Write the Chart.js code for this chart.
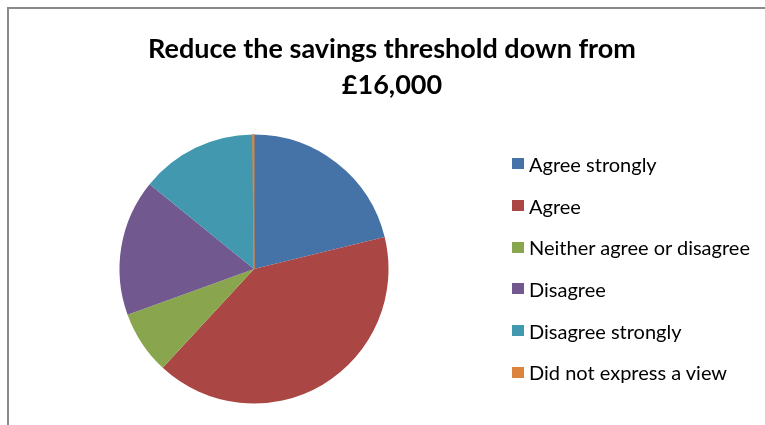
<!DOCTYPE html>
<html>
<head>
<meta charset="utf-8">
<script src="https://cdn.jsdelivr.net/npm/chart.js@4"></script>
<style>
    html, body { margin: 0; padding: 0; background: #fff; }
    #wrap { position: relative; width: 765px; height: 425px; overflow: hidden; }
    #frame {
        position: absolute; left: 7px; top: 7px; width: 800px; height: 460px;
        border: 2px solid #8a8a8a; box-sizing: border-box;
    }
    canvas { position: absolute; left: 0; top: 0; }
    #title {
        position: absolute; left: 0; top: 30px; width: 784px; text-align: center;
        font-family: Lato, sans-serif; font-weight: bold; font-size: 27px; line-height: 36px;
        color: #000;
    }
    #legend {
        position: absolute; left: 512px; top: 143px; margin: 0; padding: 0;
        list-style: none; font-family: Lato, sans-serif; font-size: 20px; color: #000;
    }
    #legend li { height: 41.7px; display: flex; align-items: center; white-space: nowrap; }
    #legend .swatch { width: 12px; height: 11px; margin-right: 5px; flex: none; }
</style>
</head>
<body>
<div id="wrap">
    <div id="frame"></div>
    <canvas id="pieChart" width="765" height="425"></canvas>
    <div id="title"></div>
    <ul id="legend"></ul>
</div>
<script>
const TITLE_LINES = ["Reduce the savings threshold down from", "£16,000"];
const RESPONSES = [
    "Agree strongly",
    "Agree",
    "Neither agree or disagree",
    "Disagree",
    "Disagree strongly",
    "Did not express a view"
];
// share of responses, percent
const SHARES = [21.2, 40.7, 7.6, 16.4, 14.0, 0.15];
const COLOURS = ["#4572A7", "#AA4643", "#89A54E", "#71588F", "#4198AF", "#DB843D"];

const ctx = document.getElementById("pieChart").getContext("2d");
const chart = new Chart(ctx, {
    type: "pie",
    data: {
        labels: RESPONSES,
        datasets: [{
            data: SHARES,
            backgroundColor: COLOURS,
            borderColor: COLOURS,
            // only the near-empty slice gets an outline, so it still shows as a line
            borderWidth: SHARES.map(v => v < 1 ? 1 : 0)
        }]
    },
    options: {
        responsive: false,
        animation: false,
        // pie sits under the title, on the left; the legend list takes the right side
        layout: { padding: { left: 19, right: 276, top: 134, bottom: 21 } },
        plugins: {
            legend: { display: false },
            tooltip: { enabled: false }
        }
    }
});

// title spans the whole frame, above both pie and legend
document.getElementById("title").innerHTML = TITLE_LINES.join("<br>");

// legend list built from the chart's own labels and colours
const legendEl = document.getElementById("legend");
chart.data.labels.forEach((label, i) => {
    const li = document.createElement("li");
    const sw = document.createElement("span");
    sw.className = "swatch";
    sw.style.background = chart.data.datasets[0].backgroundColor[i];
    li.appendChild(sw);
    li.appendChild(document.createTextNode(label));
    legendEl.appendChild(li);
});
</script>
</body>
</html>
